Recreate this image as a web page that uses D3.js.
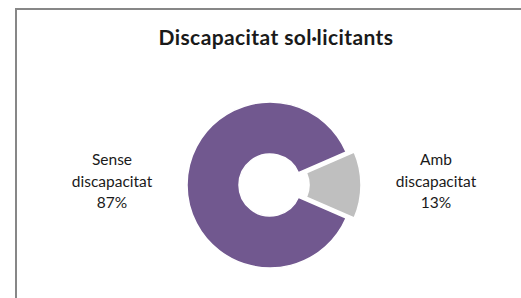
<!DOCTYPE html>
<html lang="ca">
  <head>
    <meta charset="utf-8" />
    <title>Discapacitat sol·licitants</title>
    <script src="https://d3js.org/d3.v7.min.js" charset="utf-8"></script>
    <style>
      body { margin: 0; background: #fff; }
      text { font-family: Lato, "Open Sans", sans-serif; fill: #1a1a1a; }
    </style>
  </head>
  <body>
    <div id="chart"></div>
    <script type="text/javascript">
      const categories = ["Amb discapacitat", "Sense discapacitat"];
      const values = [13, 87];
      const labelLines = [["Amb", "discapacitat"], ["Sense", "discapacitat"]];
      const colors = ["#bfbfbf", "#71588f"];
      const title = "Discapacitat sol·licitants";

      const cW = 521,
        cH = 298,
        cx = 270,
        cy = 185,
        rOuter = 83,
        rInner = 31,
        cExplode = 8,
        cLabelR = 158;

      const svg = d3
        .select("#chart")
        .append("svg")
        .attr("width", cW)
        .attr("height", cH);

      // chart frame (cropped on right and bottom)
      svg
        .append("rect")
        .attr("x", 16)
        .attr("y", 9)
        .attr("width", cW + 20)
        .attr("height", cH + 20)
        .attr("fill", "#fff")
        .attr("stroke", "#878787")
        .attr("stroke-width", 2);

      svg
        .append("text")
        .attr("x", 276)
        .attr("y", 45)
        .attr("text-anchor", "middle")
        .attr("font-weight", "bold")
        .attr("font-size", 21)
        .attr("letter-spacing", 0.4)
        .text(title);

      // gray slice centred on 3 o'clock
      const half = (Math.PI * values[0]) / d3.sum(values);
      const pie = d3
        .pie()
        .sort(null)
        .value((d) => d)
        .startAngle(Math.PI / 2 - half)
        .endAngle(Math.PI / 2 - half + 2 * Math.PI);
      const arcs = pie(values);
      const arc = d3.arc().innerRadius(rInner).outerRadius(rOuter);

      const g = svg.append("g").attr("transform", `translate(${cx},${cy})`);

      const slice = g
        .selectAll("g.slice")
        .data(arcs)
        .enter()
        .append("g")
        .attr("class", "slice")
        .attr("transform", (d, i) => {
          if (i != 0) return null;
          const a = (d.startAngle + d.endAngle) / 2;
          return `translate(${Math.sin(a) * cExplode},${-Math.cos(a) * cExplode})`;
        });

      slice
        .append("path")
        .attr("d", arc)
        .attr("fill", (d, i) => colors[i])
        .attr("stroke", "#fff")
        .attr("stroke-width", 1.5);

      // labels outside the ring
      slice.each(function (d, i) {
        const a = (d.startAngle + d.endAngle) / 2;
        const lx = Math.sin(a) * cLabelR;
        const ly = -Math.cos(a) * cLabelR;
        const pct = Math.round((values[i] / d3.sum(values)) * 100) + "%";
        const lines = labelLines[i].concat([pct]);
        const t = d3
          .select(this)
          .append("text")
          .attr("text-anchor", "middle")
          .attr("font-size", 15.5);
        lines.forEach((s, k) => {
          t.append("tspan")
            .attr("x", lx)
            .attr("y", ly + (k - 1) * 21.5 + 1.5)
            .text(s);
        });
      });
    </script>
  </body>
</html>
